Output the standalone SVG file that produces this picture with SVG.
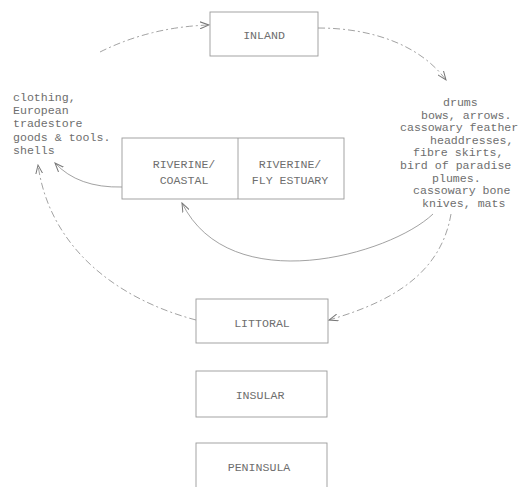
<svg xmlns="http://www.w3.org/2000/svg" width="523" height="487" viewBox="0 0 523 487">
<defs>
<style>
text{font-family:"Liberation Mono","DejaVu Sans Mono",monospace;font-size:11.6px;fill:#6e6e6e}
.box{fill:none;stroke:#9a9a9a;stroke-width:0.9}
.lbl{text-anchor:middle}
.c{fill:none;stroke:#8a8a8a;stroke-width:0.8}
.d{stroke-dasharray:7 3 2 3}
</style>
<marker id="ah" viewBox="0 0 10 8" refX="9" refY="4" markerWidth="10" markerHeight="8" markerUnits="userSpaceOnUse" orient="auto">
<path d="M0,0.5 L9,4 L0,7.5" fill="none" stroke="#777" stroke-width="1"/>
</marker>
</defs>
<rect width="523" height="487" fill="#ffffff"/>
<g id="connectors">
<path class="c d" d="M100,52 Q150,27 209,25" marker-end="url(#ah)"/>
<path class="c d" d="M318,28 C372,28 420,45 446,80" marker-end="url(#ah)"/>
<path class="c" d="M122,187 Q78,188 55,163" marker-end="url(#ah)"/>
<path class="c d" d="M196,320 C120,300 50,250 38,165" marker-end="url(#ah)"/>
<path class="c" d="M433,214 C390,255 230,300 182,203" marker-end="url(#ah)"/>
<path class="c d" d="M451,214 C440,280 380,305 329,320" marker-end="url(#ah)"/>
</g>
<g id="inland">
<rect class="box" x="210" y="12" width="108" height="44"/>
<text class="lbl" x="264" y="39">INLAND</text>
</g>
<g id="riverine">
<rect class="box" x="122" y="138" width="222" height="61"/>
<line class="box" x1="238" y1="138" x2="238" y2="199"/>
<text class="lbl" x="184" y="168">RIVERINE/</text>
<text class="lbl" x="184" y="184">COASTAL</text>
<text class="lbl" x="290" y="168">RIVERINE/</text>
<text class="lbl" x="290" y="184">FLY ESTUARY</text>
</g>
<g id="littoral">
<rect class="box" x="196" y="299" width="132" height="44"/>
<text class="lbl" x="262" y="327">LITTORAL</text>
</g>
<g id="insular">
<rect class="box" x="196" y="371" width="131" height="46"/>
<text class="lbl" x="260" y="399">INSULAR</text>
</g>
<g id="peninsula">
<rect class="box" x="196" y="443" width="131" height="60"/>
<text class="lbl" x="259" y="471">PENINSULA</text>
</g>
<g id="imports">
<text x="13" y="101">clothing,</text>
<text x="13" y="114">European</text>
<text x="13" y="127">tradestore</text>
<text x="13" y="141">goods &amp; tools.</text>
<text x="13" y="154">shells</text>
</g>
<g id="exports">
<text x="443" y="106">drums</text>
<text x="421" y="119">bows, arrows.</text>
<text x="400" y="131">cassowary feather</text>
<text x="430" y="144">headdresses,</text>
<text x="413" y="156">fibre skirts,</text>
<text x="400" y="169">bird of paradise</text>
<text x="432" y="182">plumes.</text>
<text x="413" y="194">cassowary bone</text>
<text x="422" y="207">knives, mats</text>
</g>
</svg>
